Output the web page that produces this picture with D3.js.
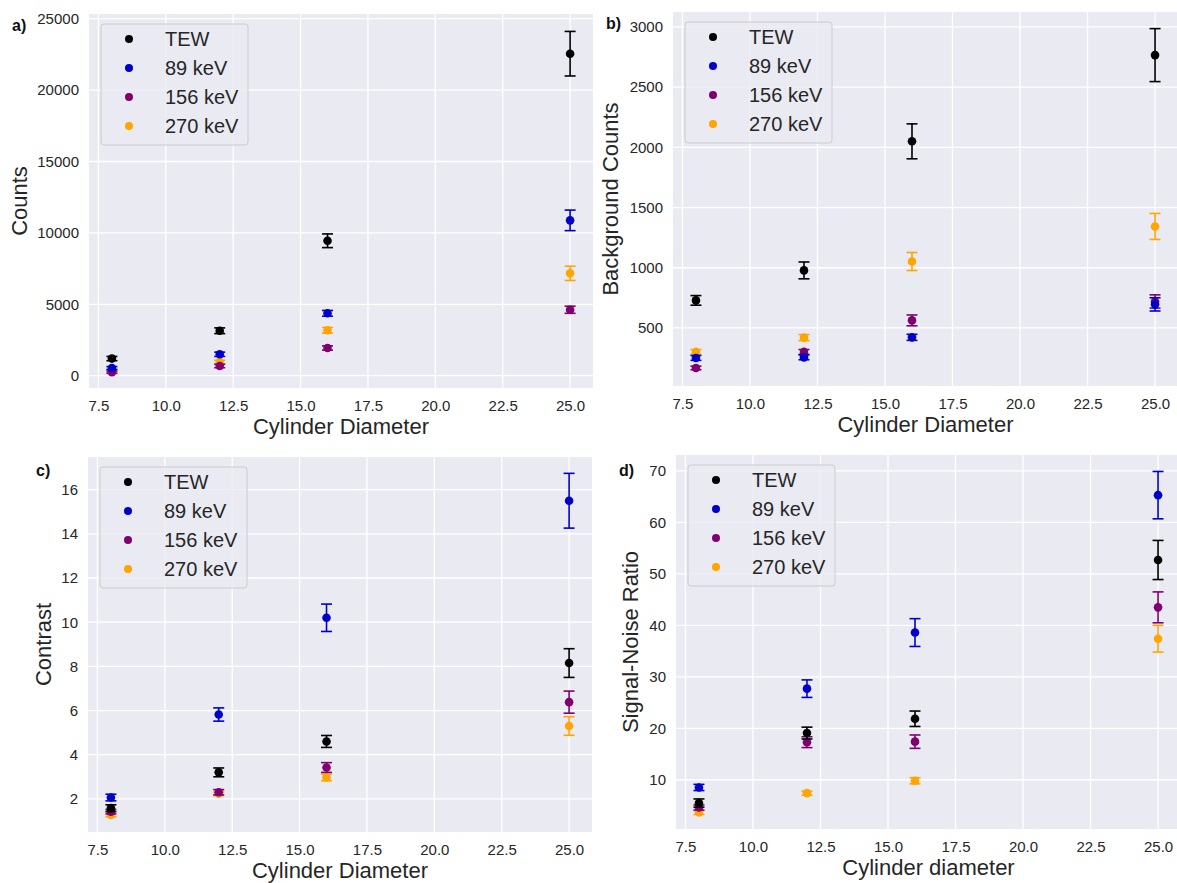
<!DOCTYPE html>
<html>
<head>
<meta charset="utf-8">
<script src="https://cdn.jsdelivr.net/npm/d3@7"></script>
<style>
  body { margin: 0; background: #fff; }
  svg { display: block; font-family: "Liberation Sans", Arial, sans-serif; }
</style>
</head>
<body>
<script>
const w = 1177;
const h = 883;

// Data

const diameters = [8, 12, 16, 25];
const seriesNames = ["TEW", "89 keV", "156 keV", "270 keV"];
const seriesColors = ["#000000", "#0000cd", "#800070", "#ffa500"];
const xTicks = [7.5, 10, 12.5, 15, 17.5, 20, 22.5, 25];

// a) Counts
const countsVal = [[1200, 3150, 9450, 22550], [540, 1500, 4370, 10880], [250, 680, 1940, 4620], [320, 960, 3180, 7170]];
const countsErr = [[150, 200, 480, 1560], [100, 150, 200, 720], [80, 120, 150, 250], [100, 120, 200, 500]];
const countsTicks = [0, 5000, 10000, 15000, 20000, 25000];

// b) Background counts
const bgVal = [[729, 978, 2050, 2766], [251, 256, 422, 696], [168, 301, 563, 720], [301, 420, 1052, 1343]];
const bgErr = [[40, 70, 145, 220], [20, 20, 25, 55], [15, 20, 45, 55], [20, 25, 75, 108]];
const bgTicks = [500, 1000, 1500, 2000, 2500, 3000];

// c) Contrast
const contrastVal = [[1.58, 3.2, 4.6, 8.15], [2.06, 5.82, 10.2, 15.5], [1.42, 2.3, 3.42, 6.38], [1.27, 2.23, 2.97, 5.3]];
const contrastErr = [[0.15, 0.2, 0.27, 0.65], [0.15, 0.3, 0.62, 1.24], [0.1, 0.12, 0.22, 0.5], [0.08, 0.08, 0.15, 0.42]];
const contrastTicks = [2, 4, 6, 8, 10, 12, 14, 16];

// d) Signal-noise ratio
const snrVal = [[5.47, 19.07, 21.85, 52.7], [8.5, 27.7, 38.6, 65.3], [4.6, 17.3, 17.4, 43.5], [3.65, 7.4, 9.8, 37.4]];
const snrErr = [[0.8, 1.15, 1.5, 3.8], [0.6, 1.7, 2.7, 4.6], [0.5, 1.05, 1.3, 3.0], [0.4, 0.4, 0.6, 2.6]];
const snrTicks = [10, 20, 30, 40, 50, 60, 70];

const panels = [
  { tag: "a)", tagX: 12, tagY: 31, x0: 89, x1: 593, y0: 14, y1: 388, yDomain: [-860, 25330],
    yTicks: countsTicks, val: countsVal, err: countsErr, yLabel: "Counts", yLabelX: 19, xLabel: "Cylinder Diameter" },
  { tag: "b)", tagX: 606, tagY: 29, x0: 673, x1: 1178, y0: 12, y1: 386, yDomain: [18, 3124],
    yTicks: bgTicks, val: bgVal, err: bgErr, yLabel: "Background Counts", yLabelX: 610, xLabel: "Cylinder Diameter" },
  { tag: "c)", tagX: 36, tagY: 476, x0: 88, x1: 592, y0: 457, y1: 832, yDomain: [0.5, 17.48],
    yTicks: contrastTicks, val: contrastVal, err: contrastErr, yLabel: "Contrast", yLabelX: 43, xLabel: "Cylinder Diameter" },
  { tag: "d)", tagX: 619, tagY: 476, x0: 676, x1: 1181, y0: 455, y1: 829, yDomain: [0.43, 73.1],
    yTicks: snrTicks, val: snrVal, err: snrErr, yLabel: "Signal-Noise Ratio", yLabelX: 630, xLabel: "Cylinder diameter" }
];

// SVG

const svg = d3.select("body").append("svg").attr("width", w).attr("height", h);

panels.forEach((p) => {
  const x = d3.scaleLinear().domain([7.15, 25.85]).range([p.x0, p.x1]);
  const y = d3.scaleLinear().domain(p.yDomain).range([p.y1, p.y0]);
  const g = svg.append("g");

  // Background

  g.append("rect")
    .attr("x", p.x0).attr("y", p.y0)
    .attr("width", p.x1 - p.x0).attr("height", p.y1 - p.y0)
    .attr("fill", "#eaeaf2");

  // Grid

  g.append("g").selectAll("line").data(xTicks).join("line")
    .attr("x1", (d) => x(d)).attr("x2", (d) => x(d))
    .attr("y1", p.y0).attr("y2", p.y1)
    .attr("stroke", "#fff").attr("stroke-width", 1.3);

  g.append("g").selectAll("line").data(p.yTicks).join("line")
    .attr("x1", p.x0).attr("x2", p.x1)
    .attr("y1", (d) => y(d)).attr("y2", (d) => y(d))
    .attr("stroke", "#fff").attr("stroke-width", 1.3);

  // Axes (no domain line, no ticks, seaborn style)

  const xAxis = g.append("g")
    .attr("transform", `translate(0,${p.y1})`)
    .call(d3.axisBottom(x).tickValues(xTicks).tickFormat(d3.format(".1f")).tickSize(0).tickPadding(12));
  const yAxis = g.append("g")
    .attr("transform", `translate(${p.x0},0)`)
    .call(d3.axisLeft(y).tickValues(p.yTicks).tickFormat(d3.format("d")).tickSize(0).tickPadding(10));
  [xAxis, yAxis].forEach((a) => {
    a.select(".domain").remove();
    a.selectAll("text").attr("fill", "#262626").style("font-size", "15px")
      .style("font-family", '"Liberation Sans", Arial, sans-serif');
  });

  // Axis labels

  g.append("text")
    .attr("x", (p.x0 + p.x1) / 2).attr("y", p.y1 + 46)
    .attr("text-anchor", "middle").attr("fill", "#262626")
    .style("font-size", "22px").text(p.xLabel);

  g.append("text")
    .attr("transform", `translate(${p.yLabelX + 8},${(p.y0 + p.y1) / 2}) rotate(-90)`)
    .attr("text-anchor", "middle").attr("fill", "#262626")
    .style("font-size", "22px").text(p.yLabel);

  // Panel tag

  g.append("text")
    .attr("x", p.tagX).attr("y", p.tagY)
    .attr("fill", "#111").style("font-size", "16px").style("font-weight", "bold")
    .text(p.tag);

  // Series, drawn last-to-first so TEW ends on top

  d3.range(seriesNames.length).reverse().forEach((s) => {
    const pts = diameters.map((d, i) => ({ d, v: p.val[s][i], e: p.err[s][i] }));
    const sg = g.append("g").attr("stroke", seriesColors[s]).attr("fill", seriesColors[s]);

    sg.selectAll("line.bar").data(pts).join("line").attr("class", "bar")
      .attr("x1", (d) => x(d.d)).attr("x2", (d) => x(d.d))
      .attr("y1", (d) => y(d.v - d.e)).attr("y2", (d) => y(d.v + d.e))
      .attr("stroke-width", 1.6);

    sg.selectAll("line.capt").data(pts).join("line").attr("class", "capt")
      .attr("x1", (d) => x(d.d) - 5.5).attr("x2", (d) => x(d.d) + 5.5)
      .attr("y1", (d) => y(d.v + d.e)).attr("y2", (d) => y(d.v + d.e))
      .attr("stroke-width", 1.6);

    sg.selectAll("line.capb").data(pts).join("line").attr("class", "capb")
      .attr("x1", (d) => x(d.d) - 5.5).attr("x2", (d) => x(d.d) + 5.5)
      .attr("y1", (d) => y(d.v - d.e)).attr("y2", (d) => y(d.v - d.e))
      .attr("stroke-width", 1.6);

    sg.selectAll("circle").data(pts).join("circle")
      .attr("cx", (d) => x(d.d)).attr("cy", (d) => y(d.v))
      .attr("r", 4.3).attr("stroke", "none");
  });

  // Legend

  const lx = p.x0 + 12;
  const ly = p.y0 + 10;
  const legend = g.append("g").attr("transform", `translate(${lx},${ly})`);

  legend.append("rect")
    .attr("width", 147).attr("height", 121).attr("rx", 3)
    .attr("fill", "#eaeaf2").attr("fill-opacity", 0.8)
    .attr("stroke", "#cccccc").attr("stroke-width", 1);

  const rows = legend.selectAll("g").data(seriesNames).join("g")
    .attr("transform", (d, i) => `translate(0,${15 + i * 29})`);

  rows.append("circle").attr("cx", 28).attr("cy", 0).attr("r", 4)
    .attr("fill", (d, i) => seriesColors[i]);

  rows.append("text").attr("x", 64).attr("y", 7)
    .attr("fill", "#262626").style("font-size", "20px")
    .text((d) => d);
});
</script>
</body>
</html>
